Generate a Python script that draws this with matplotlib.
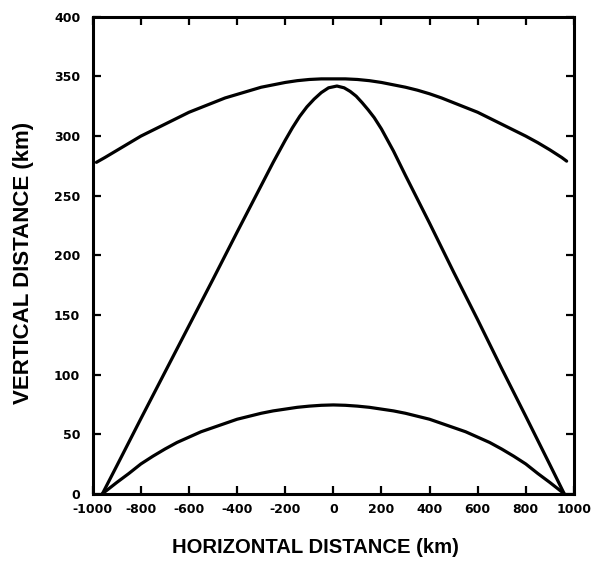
import matplotlib
matplotlib.use("Agg")
import matplotlib.pyplot as plt

# Upper boundary arc (km)
upper_x = [-985, -950, -900, -850, -800, -750, -700, -650, -600, -550, -500,
           -450, -400, -350, -300, -250, -200, -150, -100, -50, 0,
           50, 100, 150, 200, 250, 300, 350, 400, 450, 500,
           550, 600, 650, 700, 750, 800, 850, 900, 950, 970]
upper_y = [278, 282, 288, 294, 300, 305, 310, 315, 320, 324, 328,
           332, 335, 338, 341, 343, 345, 346.5, 347.5, 348, 348,
           348, 347.5, 346.5, 345, 343, 341, 338.5, 335.5, 332, 328,
           324, 320, 315, 310, 305, 300, 294.5, 288.5, 282, 279]

# Peaked path between the two ground points (km)
peak_x = [-960, -900, -800, -700, -600, -500, -400, -300, -250, -200,
          -170, -140, -110, -80, -50, -20, 15, 45, 70, 95, 120, 145, 170,
          200, 250, 300, 400, 500, 600, 700, 800, 900, 960]
peak_y = [0, 23.5, 63, 102, 141, 180, 219.5, 258.5, 278, 296.5,
          307, 316.5, 324.5, 331, 336.5, 340.5, 342, 340.5, 337.5, 333.5,
          328, 322, 315.5, 306, 287.5, 267, 227, 186, 146, 105, 65, 24.5, 0]

# Lower arc (km)
lower_x = [-960, -900, -850, -800, -750, -700, -650, -600, -550, -500,
           -450, -400, -350, -300, -250, -200, -150, -100, -50, 0,
           50, 100, 150, 200, 250, 300, 350, 400, 450, 500,
           550, 600, 650, 700, 750, 800, 850, 900, 960]
lower_y = [0, 9.5, 17, 25, 31.5, 37.5, 43, 47.5, 52, 55.5,
           59, 62.5, 65, 67.5, 69.5, 71, 72.5, 73.5, 74.2, 74.5,
           74.2, 73.5, 72.5, 71, 69.5, 67.5, 65, 62.5, 59, 55.5,
           52, 47.5, 43, 37.5, 31.5, 25, 17, 9.5, 0]

x_ticks = [-1000, -800, -600, -400, -200, 0, 200, 400, 600, 800, 1000]
y_ticks = [0, 50, 100, 150, 200, 250, 300, 350, 400]

fig = plt.figure(figsize=(5.91, 5.63), dpi=100)
ax = fig.add_axes([0.157, 0.123, 0.814, 0.847])

for xs, ys in [(upper_x, upper_y), (peak_x, peak_y), (lower_x, lower_y)]:
    ax.plot(xs, ys, color="black", lw=2.3, solid_capstyle="round",
            solid_joinstyle="round")

ax.set_xlim(-1000, 1000)
ax.set_ylim(0, 400)
ax.set_xticks(x_ticks)
ax.set_yticks(y_ticks)
ax.set_xticklabels([str(v) for v in x_ticks])
ax.set_yticklabels([str(v) for v in y_ticks])

for s in ax.spines.values():
    s.set_linewidth(2.2)

ax.tick_params(direction="in", length=6, width=1.6, top=True, right=True,
               labelsize=9)
ax.tick_params(axis="x", pad=6.5)
ax.tick_params(axis="y", pad=9)
for lab in ax.get_xticklabels() + ax.get_yticklabels():
    lab.set_fontweight("bold")
    lab.set_family("DejaVu Sans")

ax.set_xlabel("HORIZONTAL DISTANCE (km)", fontsize=14.6, fontweight="bold",
              family="Liberation Sans", va="center", ha="center")
ax.xaxis.set_label_coords(0.463, -0.113)
ax.set_ylabel("VERTICAL DISTANCE (km)", fontsize=16, fontweight="bold",
              family="Liberation Sans", va="center", ha="center")
ax.yaxis.set_label_coords(-0.143, 0.484)

fig.savefig("out.png", dpi=100)
